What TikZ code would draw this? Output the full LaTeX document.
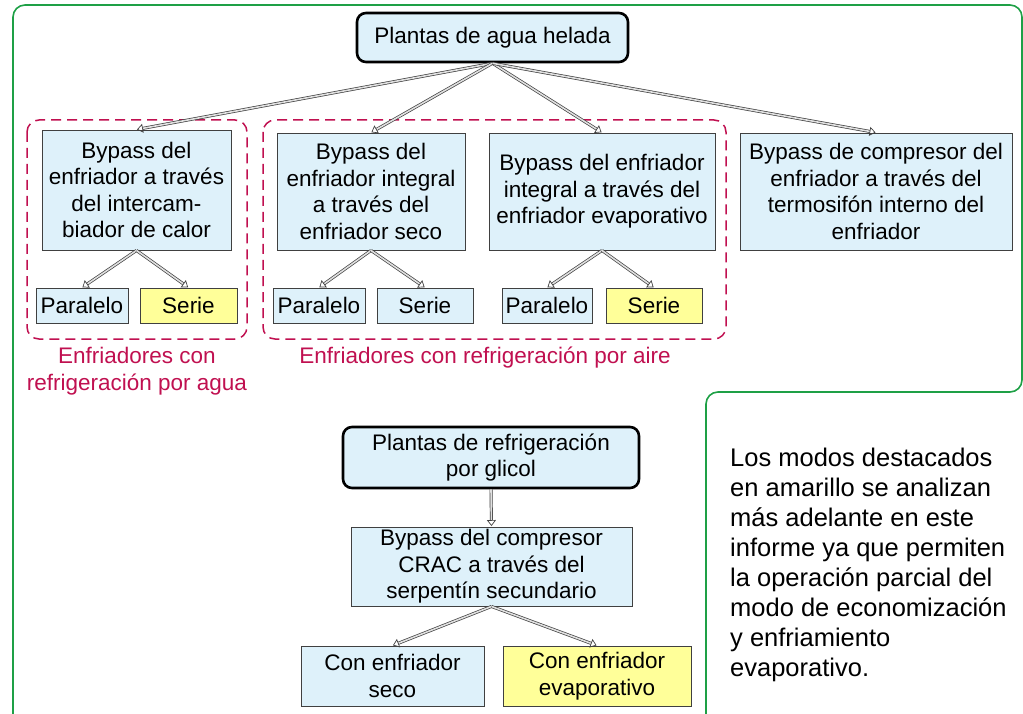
\documentclass[tikz,border=0pt]{standalone}
\usepackage{fontspec}
\setmainfont{Liberation Sans}
\usetikzlibrary{arrows.meta}
\definecolor{boxblue}{RGB}{222,241,250}
\definecolor{boxyellow}{RGB}{255,255,153}
\definecolor{grpred}{RGB}{192,16,80}
\definecolor{frgreen}{RGB}{30,160,70}
\tikzset{
  boxtxt/.style={font=\fontsize{22.5}{26.5}\selectfont, align=center, inner sep=0pt},
  mainbox/.style={boxtxt, draw=black, line width=2.6pt, rounded corners=9pt, fill=boxblue},
  subbox/.style={boxtxt, draw=black!75, line width=0.9pt, fill=boxblue},
  yelbox/.style={subbox, fill=boxyellow},
  grp/.style={draw=grpred, line width=1.5pt, dash pattern=on 10pt off 6pt, rounded corners=12pt},
  grplabel/.style={font=\fontsize{22.5}{26.5}\selectfont, text=grpred, align=center, inner sep=0pt},
  arr/.style={draw=black!75, line width=0.7pt, double=black!12, double distance=1.6pt,
    -{Triangle[open, length=6pt, width=9pt]}, shorten >=0.5pt},
}
\begin{document}
\begin{tikzpicture}[x=1pt,y=-1pt]
\useasboundingbox (0,0) rectangle (1023,714);
% green frame
\draw[frgreen, line width=1.6pt, rounded corners=12pt]
  (13,716) -- (13,5) -- (1022,5) -- (1022,392) -- (706,392) -- (706,716);
% groups
\draw[grp] (27,120) rectangle (247,339);
\draw[grp] (263,120) rectangle (726,339);
\node[grplabel] (lw) at (137,371) {Enfriadores con\\refrigeración por agua};
\node[grplabel] (la) at (485,358) {Enfriadores con refrigeración por aire};
% top
\node[mainbox, minimum width=271pt, minimum height=49pt] (top) at (492.5,37.5) {Plantas de agua helada};
\node[subbox, minimum width=189pt, minimum height=120pt] (A) at (136.5,190) {Bypass del\\enfriador a través\\del intercam-\\biador de calor};
\node[subbox, minimum width=188pt, minimum height=117pt] (B) at (371,191.5) {Bypass del\\enfriador integral\\a través del\\enfriador seco};
\node[subbox, minimum width=226pt, minimum height=117pt] (C) at (602,191.5) {Bypass del enfriador\\integral a través del\\enfriador evaporativo};
\node[subbox, minimum width=272pt, minimum height=117pt] (D) at (876,191.5) {Bypass de compresor del\\enfriador a través del\\termosifón interno del\\enfriador};
\node[subbox, minimum width=92pt, minimum height=35pt] (P1) at (82,305.5) {Paralelo};
\node[yelbox, minimum width=97pt, minimum height=35pt] (S1) at (188.5,305.5) {Serie};
\node[subbox, minimum width=92pt, minimum height=35pt] (P2) at (319,305.5) {Paralelo};
\node[subbox, minimum width=96pt, minimum height=35pt] (S2) at (425,305.5) {Serie};
\node[subbox, minimum width=90pt, minimum height=35pt] (P3) at (547,305.5) {Paralelo};
\node[yelbox, minimum width=96pt, minimum height=35pt] (S3) at (654,305.5) {Serie};
% bottom
\node[mainbox, minimum width=296pt, minimum height=61pt] (G) at (491,457.5) {Plantas de refrigeración\\por glicol};
\node[subbox, minimum width=281pt, minimum height=79pt] (R) at (491.5,566.5) {Bypass del compresor\\CRAC a través del\\serpentín secundario};
\node[subbox, minimum width=183pt, minimum height=60pt] (SE) at (392.5,676) {Con enfriador\\seco};
\node[yelbox, minimum width=188pt, minimum height=60pt] (EV) at (597,676) {Con enfriador\\evaporativo};
% note
\node[font=\fontsize{25.5}{30}\selectfont, align=left, inner sep=0pt, anchor=north west] (note) at (730,448)
 {Los modos destacados\\en amarillo se analizan\\más adelante en este\\informe ya que permiten\\la operación parcial del\\modo de economización\\y enfriamiento\\evaporativo.};
% arrows
\draw[arr] (top.south) -- (A.north);
\draw[arr] (top.south) -- (B.north);
\draw[arr] (top.south) -- (C.north);
\draw[arr] (top.south) -- (D.north);
\draw[arr] (A.south) -- (P1.north);
\draw[arr] (A.south) -- (S1.north);
\draw[arr] (B.south) -- (P2.north);
\draw[arr] (B.south) -- (S2.north);
\draw[arr] (C.south) -- (P3.north);
\draw[arr] (C.south) -- (S3.north);
\draw[arr] (G.south) -- (R.north);
\draw[arr] (R.south) -- (SE.north);
\draw[arr] (R.south) -- (EV.north);
\end{tikzpicture}
\end{document}
